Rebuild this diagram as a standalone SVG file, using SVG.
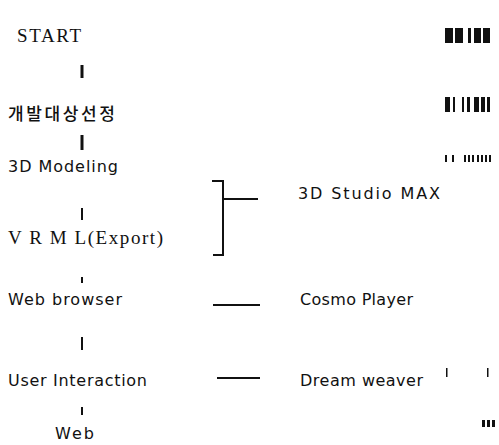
<svg xmlns="http://www.w3.org/2000/svg" width="499" height="445" viewBox="0 0 499 445">
<style>
text{fill:#111;font-size:16px;font-family:"DejaVu Sans","Noto Sans",sans-serif}
.serif{font-family:"Liberation Serif","DejaVu Serif",serif;font-size:19px}
.ko{font-family:"Noto Sans CJK KR",sans-serif;font-size:17px;font-weight:500}
.c line,.c path{stroke:#111;stroke-width:2;fill:none}
.c .thick{stroke-width:3}
.art{fill:#111}
</style>
<rect width="499" height="445" fill="#fff"/>
<g id="start"><text class="serif" x="17" y="42" textLength="64" lengthAdjust="spacing">START</text></g>
<g id="select"><text class="ko" x="8" y="120" textLength="107" lengthAdjust="spacing">개발대상선정</text></g>
<g id="modeling"><text x="8" y="172" textLength="110" lengthAdjust="spacing">3D Modeling</text></g>
<g id="vrml"><text class="serif" x="8" y="244" textLength="155" lengthAdjust="spacing">V R M L(Export)</text></g>
<g id="browser"><text x="8" y="305" textLength="114" lengthAdjust="spacing">Web browser</text></g>
<g id="interaction"><text x="8" y="386" textLength="139" lengthAdjust="spacing">User Interaction</text></g>
<g id="web"><text x="55" y="439" textLength="39" lengthAdjust="spacing">Web</text></g>
<g id="studio"><text x="298" y="199" textLength="142" lengthAdjust="spacing">3D Studio MAX</text></g>
<g id="cosmo"><text x="300" y="305" textLength="113" lengthAdjust="spacing">Cosmo Player</text></g>
<g id="dream"><text x="300" y="386" textLength="123" lengthAdjust="spacing">Dream weaver</text></g>
<g id="connectors" class="c">
<line class="thick" x1="82" y1="65" x2="82" y2="78"/>
<line class="thick" x1="82" y1="135" x2="82" y2="150"/>
<line x1="82" y1="208" x2="82" y2="220"/>
<line x1="82" y1="277" x2="82" y2="283"/>
<line x1="82" y1="337" x2="82" y2="350"/>
<line x1="82" y1="407" x2="82" y2="415"/>
<path d="M212 181H223V255H213M223 199H258"/>
<line x1="213" y1="305" x2="260" y2="305"/>
<line x1="217" y1="378" x2="260" y2="378"/>
</g>
<g class="art">
<rect x="445" y="28" width="8" height="15"/><rect x="455" y="28" width="8" height="15"/><rect x="468" y="28" width="3" height="15"/><rect x="474" y="28" width="7" height="15"/><rect x="483" y="28" width="7" height="15"/>
<rect x="445" y="97" width="5" height="15"/><rect x="453" y="97" width="2" height="15"/><rect x="462" y="97" width="2" height="15"/><rect x="467" y="97" width="3" height="15"/><rect x="474" y="97" width="5" height="15"/><rect x="481" y="97" width="4" height="15"/><rect x="487" y="97" width="3" height="15"/>
<rect x="445" y="155" width="2" height="7"/><rect x="452" y="155" width="2" height="7"/><rect x="464" y="155" width="2" height="7"/><rect x="468" y="155" width="2" height="7"/><rect x="472" y="155" width="2" height="7"/><rect x="477" y="155" width="2" height="7"/><rect x="481" y="155" width="2" height="7"/><rect x="485" y="155" width="2" height="7"/><rect x="489" y="155" width="2" height="7"/>
<rect x="446" y="368" width="1.5" height="9"/><rect x="487" y="368" width="1.5" height="9"/>
<rect x="482" y="420" width="3" height="7"/><rect x="487" y="420" width="3" height="7"/><rect x="492" y="420" width="3" height="7"/>
</g>
</svg>
